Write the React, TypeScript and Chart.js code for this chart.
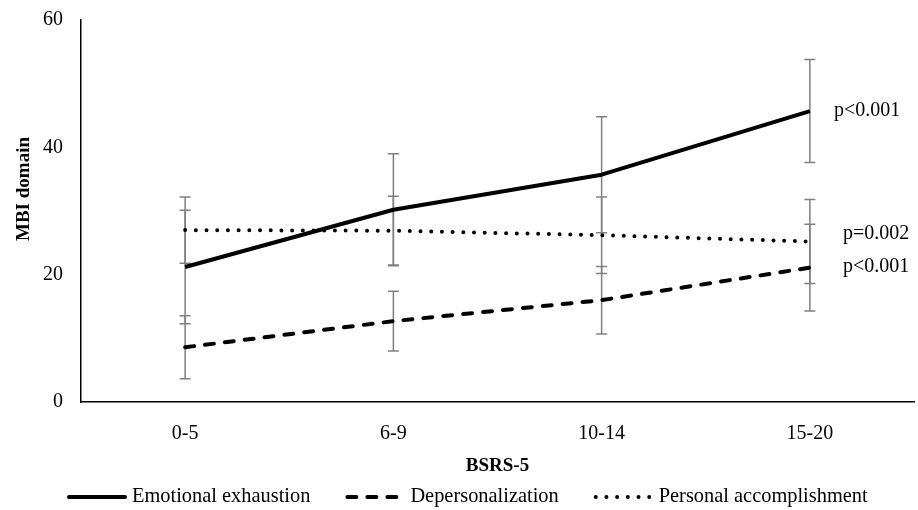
import React, { useEffect, useRef } from 'react';
import { Chart, registerables } from 'chart.js';

Chart.register(...registerables);

// ---- Data ----
const categories = ['0-5', '6-9', '10-14', '15-20'];
const seriesLabels = ['Emotional exhaustion', 'Depersonalization', 'Personal accomplishment'];
const emotionalExhaustion = [21.2, 30.2, 35.7, 45.7];
const emotionalExhaustionSD = [8.9, 8.8, 9.1, 8.1];
const depersonalization = [8.6, 12.7, 16.0, 21.1];
const depersonalizationSD = [4.95, 4.7, 5.3, 6.8];
const personalAccomplishment = [27.0, 26.9, 26.2, 25.2];
const personalAccomplishmentSD = [5.2, 5.4, 6.0, 6.6];
const pValueLabels = ['p<0.001', 'p<0.001', 'p=0.002'];
const pValueLabelAt = [45.7, 21.2, 26.5];
const yMin = 0;
const yMax = 60;
const yStep = 20;
const xTitle = 'BSRS-5';
const yTitle = 'MBI domain';

const sdSeries = [emotionalExhaustionSD, depersonalizationSD, personalAccomplishmentSD];

const FONT = "'Liberation Serif', 'Times New Roman', serif";
const ERR_COLOR = '#808080';

const errorBarPlugin = {
  id: 'errorBars',
  beforeDatasetsDraw(chart: any) {
    const { ctx, scales } = chart;
    const x = scales.x;
    const y = scales.y;
    ctx.save();
    ctx.strokeStyle = ERR_COLOR;
    ctx.lineWidth = 1.5;
    ctx.setLineDash([]);
    sdSeries.forEach((sd, di) => {
      const values = chart.data.datasets[di].data as number[];
      values.forEach((v, i) => {
        const px = x.getPixelForValue(i);
        const top = y.getPixelForValue(v + sd[i]);
        const bot = y.getPixelForValue(v - sd[i]);
        const cap = 5.5;
        ctx.beginPath();
        ctx.moveTo(px, top);
        ctx.lineTo(px, bot);
        ctx.moveTo(px - cap, top);
        ctx.lineTo(px + cap, top);
        ctx.moveTo(px - cap, bot);
        ctx.lineTo(px + cap, bot);
        ctx.stroke();
      });
    });
    ctx.restore();
  },
};

const pLabelOffsets = [24, 33, 33];

const pLabelPlugin = {
  id: 'pLabels',
  afterDatasetsDraw(chart: any) {
    const { ctx, scales } = chart;
    const x = scales.x;
    const y = scales.y;
    ctx.save();
    ctx.fillStyle = '#000';
    ctx.font = `20px ${FONT}`;
    ctx.textAlign = 'left';
    ctx.textBaseline = 'middle';
    pValueLabels.forEach((t, i) => {
      const px = x.getPixelForValue(categories.length - 1) + pLabelOffsets[i];
      const py = y.getPixelForValue(pValueLabelAt[i]);
      ctx.fillText(t, px, py);
    });
    ctx.restore();
  },
};

const yTitlePlugin = {
  id: 'yTitleCustom',
  afterDraw(chart: any) {
    const { ctx } = chart;
    ctx.save();
    ctx.translate(24, 189);
    ctx.rotate(-Math.PI / 2);
    ctx.fillStyle = '#000';
    ctx.font = `bold 19px ${FONT}`;
    ctx.textAlign = 'center';
    ctx.textBaseline = 'middle';
    ctx.fillText(yTitle, 0, 0);
    ctx.restore();
  },
};

const legendPlugin = {
  id: 'lineLegend',
  afterDraw(chart: any) {
    const { ctx } = chart;
    ctx.save();
    ctx.font = `20.4px ${FONT}`;
    ctx.textBaseline = 'middle';
    ctx.textAlign = 'left';
    let xPos = 67;
    const yPos = 497;
    const sample = 60;
    chart.data.datasets.forEach((ds: any) => {
      ctx.save();
      ctx.strokeStyle = ds.borderColor;
      ctx.lineWidth = ds.borderWidth;
      ctx.lineCap = 'round';
      ctx.setLineDash(ds.borderDash || []);
      ctx.beginPath();
      ctx.moveTo(xPos + 2, yPos);
      ctx.lineTo(xPos + sample - 2, yPos);
      ctx.stroke();
      ctx.restore();
      xPos += sample + 5;
      ctx.fillStyle = '#000';
      ctx.fillText(ds.label, xPos, yPos);
      xPos += ctx.measureText(ds.label).width + 35;
    });
    ctx.restore();
  },
};

export default function App() {
  const canvasRef = useRef<HTMLCanvasElement | null>(null);

  useEffect(() => {
    document.body.style.margin = '0';
    const canvas = canvasRef.current;
    if (!canvas) return;
    const chart = new Chart(canvas, {
      type: 'line',
      data: {
        labels: categories,
        datasets: [
          {
            label: seriesLabels[0],
            data: emotionalExhaustion,
            borderColor: '#000',
            backgroundColor: '#000',
            borderWidth: 4,
            borderDash: [],
            borderCapStyle: 'butt',
            borderJoinStyle: 'round',
            pointRadius: 0,
            tension: 0,
            fill: false,
          },
          {
            label: seriesLabels[1],
            data: depersonalization,
            borderColor: '#000',
            backgroundColor: '#000',
            borderWidth: 4,
            borderDash: [9, 11],
            borderCapStyle: 'round',
            borderJoinStyle: 'round',
            pointRadius: 0,
            tension: 0,
            fill: false,
          },
          {
            label: seriesLabels[2],
            data: personalAccomplishment,
            borderColor: '#000',
            backgroundColor: '#000',
            borderWidth: 4,
            borderDash: [0, 10.7],
            borderCapStyle: 'round',
            borderJoinStyle: 'round',
            pointRadius: 0,
            tension: 0,
            fill: false,
          },
        ],
      },
      options: {
        animation: false,
        responsive: false,
        devicePixelRatio: 1,
        events: [],
        layout: { padding: { top: 20, right: 4, bottom: 0, left: 0 } },
        plugins: {
          legend: { display: false },
          tooltip: { enabled: false },
          title: { display: false },
        },
        scales: {
          x: {
            offset: true,
            grid: { display: false, drawTicks: false },
            border: { display: true, color: '#000', width: 1.5 },
            ticks: {
              color: '#000',
              font: { family: FONT, size: 20 },
              padding: 20,
              maxRotation: 0,
            },
            title: {
              display: true,
              text: xTitle,
              color: '#000',
              font: { family: FONT, size: 19, weight: 'bold' },
              padding: { top: 0, bottom: 33 },
            },
            afterFit(scale: any) {
              scale.height = 108;
            },
          },
          y: {
            min: yMin,
            max: yMax,
            grid: {
              display: true,
              drawOnChartArea: false,
              drawTicks: true,
              tickLength: 18,
              color: 'rgba(0,0,0,0)',
            },
            border: { display: true, color: '#000', width: 1.5 },
            ticks: {
              stepSize: yStep,
              color: '#000',
              font: { family: FONT, size: 20 },
              padding: 0,
            },
            title: { display: false },
            afterFit(scale: any) {
              scale.width = 81;
            },
          },
        },
      } as any,
      plugins: [errorBarPlugin, pLabelPlugin, yTitlePlugin, legendPlugin],
    });
    return () => {
      chart.destroy();
    };
  }, []);

  return (
    <div style={{ position: 'absolute', left: 0, top: 0, width: 918, height: 510, background: '#fff' }}>
      <canvas ref={canvasRef} width={918} height={510} />
    </div>
  );
}
